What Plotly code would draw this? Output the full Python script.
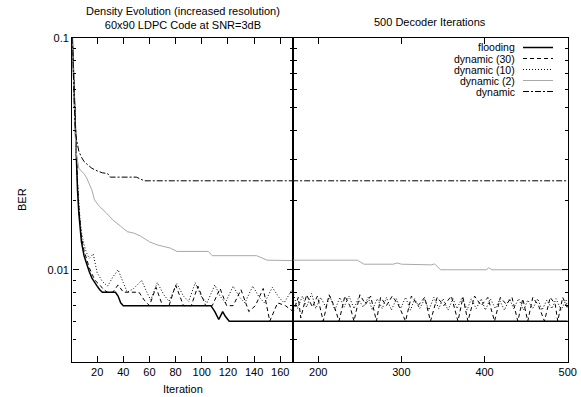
import plotly.graph_objects as go

# ---------------- data ----------------
flood_x = [1, 2, 3, 4, 5, 6, 7, 8, 10, 12, 14, 16, 18, 20, 22, 24, 34, 36, 38, 40,
           107, 110, 113, 116, 118, 121, 500]
flood_y = [0.1, 0.065, 0.042, 0.029, 0.022, 0.0175, 0.0148, 0.0132, 0.0115, 0.0105,
           0.0098, 0.0092, 0.0088, 0.0085, 0.0082, 0.0080, 0.0080, 0.0077, 0.0072, 0.0070,
           0.0070, 0.0066, 0.0061, 0.0066, 0.0063, 0.0060, 0.0060]

dyn30_x = [1, 2, 3, 4, 5, 6, 7, 8, 10, 12, 14, 16, 18, 20, 22, 25, 28, 32, 36, 40, 46, 52,
           56, 60, 65, 70, 75, 80, 86, 92, 97, 103, 108, 114, 119, 124, 130, 136, 141, 147,
           152, 158, 164, 170,
           176, 179, 186, 193, 199, 206, 213, 219, 225, 232, 238, 243, 250, 257, 263, 270,
           275, 282, 289, 296, 305, 312, 320, 328, 335, 343, 351, 360, 368, 374, 380, 388,
           396, 404, 412, 419, 426, 433, 440, 446, 452, 458, 465, 472, 479, 485, 488, 494, 500]
dyn30_y = [0.1, 0.066, 0.044, 0.031, 0.0235, 0.0185, 0.0155, 0.0138, 0.0121, 0.0110,
           0.0102, 0.0096, 0.0091, 0.0088, 0.0086, 0.0082, 0.0080, 0.0080, 0.0086, 0.0080,
           0.0080, 0.0080, 0.0074, 0.0070, 0.0084, 0.0070, 0.0070, 0.0086, 0.0070, 0.0070,
           0.0085, 0.0070, 0.0070, 0.0083, 0.0070, 0.0070, 0.0082, 0.0066, 0.0070, 0.0083,
           0.0060, 0.0072, 0.0070, 0.0066,
           0.0076, 0.0062, 0.0078, 0.0069, 0.0077, 0.0060, 0.0078, 0.0070, 0.0060, 0.0077,
           0.0070, 0.0060, 0.0078, 0.0071, 0.0077, 0.0060, 0.0076, 0.0070, 0.0077, 0.0071,
           0.0060, 0.0077, 0.0070, 0.0076, 0.0060, 0.0076, 0.0070, 0.0077, 0.0060, 0.0076,
           0.0060, 0.0077, 0.0070, 0.0076, 0.0060, 0.0076, 0.0071, 0.0076, 0.0060, 0.0075,
           0.0060, 0.0076, 0.0070, 0.0060, 0.0076, 0.0071, 0.0060, 0.0076, 0.0068]

dyn10_x = [1, 2, 3, 4, 5, 6, 7, 8, 10, 12, 14, 17, 20, 24, 28, 32, 36, 40, 43, 48, 54,
           58, 61, 66, 71, 75, 81, 86, 90, 95, 100, 104, 110, 114, 118, 124, 129, 133, 139,
           144, 148, 154, 159, 163, 169,
           175, 181, 186, 192, 197, 203, 209, 214, 220, 226, 231, 237, 243, 248, 254, 260,
           265, 271, 277, 282, 288, 294, 299, 305, 311, 316, 322, 328, 333, 339, 345, 350,
           356, 362, 367, 373, 379, 384, 390, 396, 401, 407, 413, 418, 424, 430, 435, 441,
           447, 452, 458, 464, 469, 475, 481, 486, 492, 498, 500]
dyn10_y = [0.1, 0.063, 0.043, 0.031, 0.024, 0.019, 0.0162, 0.0145, 0.0128, 0.0118,
           0.0112, 0.0117, 0.0097, 0.0089, 0.0085, 0.0093, 0.0100, 0.0088, 0.0080, 0.0083,
           0.0090, 0.0080, 0.0074, 0.0088, 0.0078, 0.0073, 0.0087, 0.0077, 0.0073, 0.0088,
           0.0076, 0.0072, 0.0086, 0.0077, 0.0072, 0.0085, 0.0076, 0.0072, 0.0085, 0.0076,
           0.0072, 0.0084, 0.0076, 0.0072, 0.0082,
           0.0068, 0.0077, 0.0069, 0.0079, 0.0068, 0.0076, 0.0069, 0.0077, 0.0067, 0.0076,
           0.0069, 0.0077, 0.0068, 0.0075, 0.0069, 0.0076, 0.0067, 0.0075, 0.0068, 0.0076,
           0.0067, 0.0075, 0.0068, 0.0076, 0.0067, 0.0075, 0.0068, 0.0075, 0.0067, 0.0076,
           0.0068, 0.0075, 0.0067, 0.0075, 0.0068, 0.0076, 0.0067, 0.0075, 0.0068, 0.0075,
           0.0067, 0.0075, 0.0068, 0.0074, 0.0067, 0.0075, 0.0068, 0.0075, 0.0067, 0.0074,
           0.0068, 0.0075, 0.0067, 0.0074, 0.0068, 0.0075, 0.0067, 0.0074, 0.0069]

dyn2_x = [1, 2, 3, 4, 5, 6, 8, 10, 12, 14, 16, 18, 22, 27, 32, 38, 43, 48, 53, 60, 66,
          71, 76, 81, 105, 108, 142, 150, 247, 255, 290, 295, 300, 331, 336, 340, 347,
          402, 405, 409, 500]
dyn2_y = [0.1, 0.06, 0.041, 0.032, 0.0288, 0.0274, 0.0266, 0.0260, 0.0249, 0.0234,
          0.0221, 0.0200, 0.0187, 0.0176, 0.0164, 0.0154, 0.0146, 0.0144, 0.0140, 0.0132,
          0.0128, 0.0126, 0.0124, 0.0120, 0.0120, 0.0115, 0.0115, 0.0110, 0.0110, 0.01057,
          0.01057, 0.0107, 0.01057, 0.01057, 0.0105, 0.0106, 0.0100, 0.0100, 0.0102,
          0.0100, 0.0100]

dyn_x = [1, 2, 3, 4, 5, 6, 8, 10, 13, 16, 20, 24, 28, 30, 50, 53, 56, 500]
dyn_y = [0.1, 0.062, 0.043, 0.037, 0.034, 0.0325, 0.0306, 0.0293, 0.0283, 0.0274,
         0.0267, 0.0262, 0.0260, 0.0251, 0.0251, 0.0247, 0.0242, 0.0242]

series = [
    ("flooding", flood_x, flood_y, dict(color="black", width=1.5, dash="solid")),
    ("dynamic (30)", dyn30_x, dyn30_y, dict(color="black", width=1, dash="4px,3px")),
    ("dynamic (10)", dyn10_x, dyn10_y, dict(color="black", width=1, dash="1px,2px")),
    ("dynamic (2)", dyn2_x, dyn2_y, dict(color="#a8a8a8", width=1, dash="solid")),
    ("dynamic", dyn_x, dyn_y, dict(color="black", width=1, dash="6px,2px,2px,2px")),
]

left_ticks = [20, 40, 60, 80, 100, 120, 140, 160]
right_ticks = [200, 300, 400, 500]
y_major = [0.1, 0.01]
y_labels = ["0.1", "0.01"]
y_minor = [0.09, 0.08, 0.07, 0.06, 0.05, 0.04, 0.03, 0.02,
           0.009, 0.008, 0.007, 0.006, 0.005, 0.004]

# ---------------- figure ----------------
W, H = 581, 397
FONT = "Liberation Sans, Arial, Helvetica, sans-serif"

fig = go.Figure()
for name, xs, ys, ln in series:
    for xa, ya in (("x", "y"), ("x2", "y2")):
        fig.add_trace(go.Scatter(x=xs, y=ys, mode="lines", line=ln, name=name,
                                 xaxis=xa, yaxis=ya, showlegend=False,
                                 hoverinfo="skip"))

xl0, xm, xr1 = 72.3 / W, 293.3 / W, 567.7 / W
yb, yt = 1 - 362 / H, 1 - 38 / H

common_ax = dict(showline=True, linecolor="black", linewidth=1.4, mirror="allticks",
                 ticks="inside", tickcolor="black", ticklen=6, tickwidth=1,
                 showgrid=False, zeroline=False, automargin=False,
                 tickfont=dict(family=FONT, size=11, color="black"))

yminor = dict(tickmode="array", tickvals=y_minor, ticks="inside", ticklen=3,
              tickcolor="black", tickwidth=1)

fig.update_layout(
    width=W, height=H, autosize=False,
    margin=dict(l=0, r=0, t=0, b=0),
    paper_bgcolor="white", plot_bgcolor="white",
    showlegend=False,
    font=dict(family=FONT, size=11, color="black"),
    xaxis=dict(domain=[xl0, xm], range=[1, 170], tickvals=left_ticks,
               anchor="y", **common_ax),
    xaxis2=dict(domain=[xm, xr1], range=[170, 500], tickvals=right_ticks,
                anchor="y2", **common_ax),
    yaxis=dict(domain=[yb, yt], type="log", range=[-2.39794, -1],
               tickvals=y_major, ticktext=y_labels,
               minor=yminor, anchor="x", **common_ax),
    yaxis2=dict(domain=[yb, yt], type="log", range=[-2.39794, -1],
                tickvals=y_major, showticklabels=False,
                minor=yminor, anchor="x2", **common_ax),
)

ann = []
ann.append(dict(text="Density Evolution (increased resolution)<br>60x90 LDPC Code at SNR=3dB",
                x=182.5 / W, y=1 - 3 / H, xref="paper", yref="paper",
                xanchor="center", yanchor="top", showarrow=False,
                font=dict(family=FONT, size=11)))
ann.append(dict(text="500 Decoder Iterations", x=430 / W, y=1 - 22 / H,
                xref="paper", yref="paper", xanchor="center", yanchor="middle",
                showarrow=False, font=dict(family=FONT, size=11)))
ann.append(dict(text="Iteration", x=183 / W, y=1 - 389 / H, xref="paper", yref="paper",
                xanchor="center", yanchor="middle", showarrow=False,
                font=dict(family=FONT, size=11)))
ann.append(dict(text="BER", x=22 / W, y=1 - 200 / H, xref="paper", yref="paper",
                xanchor="center", yanchor="middle", showarrow=False, textangle=-90,
                font=dict(family=FONT, size=11)))

shapes = []
rows = [47.5, 58.5, 69.5, 80.5, 91.5]
for (name, xs, ys, ln), ry in zip(series, rows):
    ann.append(dict(text=name, x=517 / W, y=1 - ry / H, xref="paper", yref="paper",
                    xanchor="right", yanchor="middle", showarrow=False,
                    font=dict(family=FONT, size=10.5)))
    shapes.append(dict(type="line", xref="paper", yref="paper",
                       x0=523 / W, x1=553 / W, y0=1 - ry / H, y1=1 - ry / H,
                       line=ln))

fig.update_layout(annotations=ann, shapes=shapes)
fig.write_html("out.html")
